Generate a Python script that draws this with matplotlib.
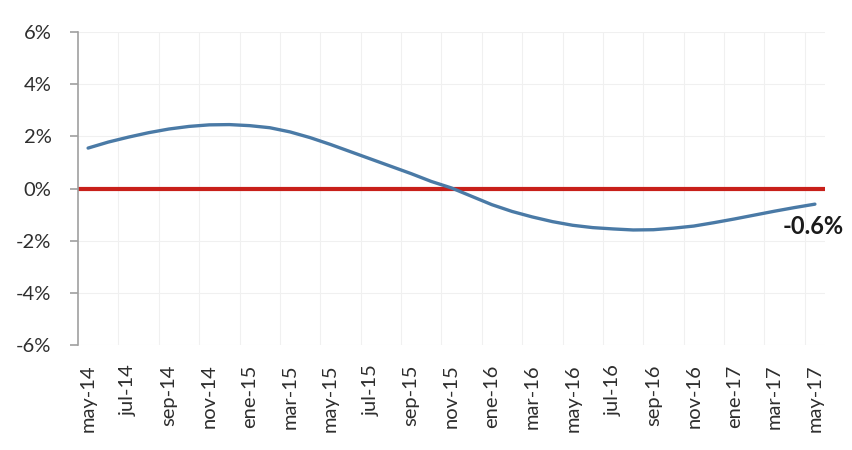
import matplotlib
matplotlib.use("Agg")
import matplotlib.pyplot as plt
from matplotlib.ticker import FuncFormatter

plt.rcParams['font.family'] = ['Lato', 'DejaVu Sans']

# Monthly series, may-14 .. may-17 (percent)
values = [1.55, 1.78, 1.97, 2.14, 2.28, 2.38, 2.44, 2.45, 2.41, 2.33,
          2.17, 1.95, 1.69, 1.41, 1.13, 0.85, 0.57, 0.27, 0.02, -0.30,
          -0.62, -0.88, -1.09, -1.27, -1.41, -1.50, -1.55, -1.59, -1.58, -1.52,
          -1.44, -1.31, -1.17, -1.02, -0.87, -0.73, -0.60]
reference_level = 0.0
end_label = "-0.6%"

# Category labels shown every second month
tick_labels = ["may-14", "jul-14", "sep-14", "nov-14", "ene-15", "mar-15",
               "may-15", "jul-15", "sep-15", "nov-15", "ene-16", "mar-16",
               "may-16", "jul-16", "sep-16", "nov-16", "ene-17", "mar-17",
               "may-17"]
y_ticks = [-6, -4, -2, 0, 2, 4, 6]

n = len(values)
x = list(range(n))

fig = plt.figure(figsize=(8.53, 4.5), dpi=100)
ax = fig.add_axes([78 / 853, 1 - 345 / 450, (825 - 78) / 853, (345 - 32) / 450])

# faint grid
for gx in [i + 0.5 for i in range(1, n, 2)]:
    ax.axvline(gx, color="#f0f0f0", lw=0.8, zorder=0)
for gy in y_ticks:
    ax.axhline(gy, color="#f0f0f0", lw=0.8, zorder=0)

ax.axhline(reference_level, color="#c8201a", lw=3.0, zorder=2)
ax.plot(x, values, color="#4a7aa6", lw=2.4, zorder=3, solid_capstyle="round")

ax.annotate(end_label, xy=(x[-1], values[-1]), xytext=(-23, -16),
            textcoords="offset points", ha="left", va="center",
            fontsize=17, fontweight="bold", color="#1a1a1a", zorder=4)

ax.set_xlim(-0.5, n - 0.5)
ax.set_ylim(-6, 6)
ax.set_yticks(y_ticks)
ax.yaxis.set_major_formatter(FuncFormatter(lambda v, p: f"{v:.0f}%"))
ax.set_xticks(x[::2])
ax.set_xticklabels(tick_labels, rotation=90)

for side in ("top", "right", "bottom"):
    ax.spines[side].set_visible(False)
ax.spines["left"].set_color("#a0a0a0")
ax.spines["left"].set_linewidth(1.2)

ax.tick_params(axis="y", length=6, width=1.2, color="#a0a0a0", pad=13,
               labelsize=14.5, labelcolor="#2e2e2e")
ax.tick_params(axis="x", length=0, pad=14, labelsize=14.5, labelcolor="#2e2e2e")

fig.savefig("out.png", dpi=100)
